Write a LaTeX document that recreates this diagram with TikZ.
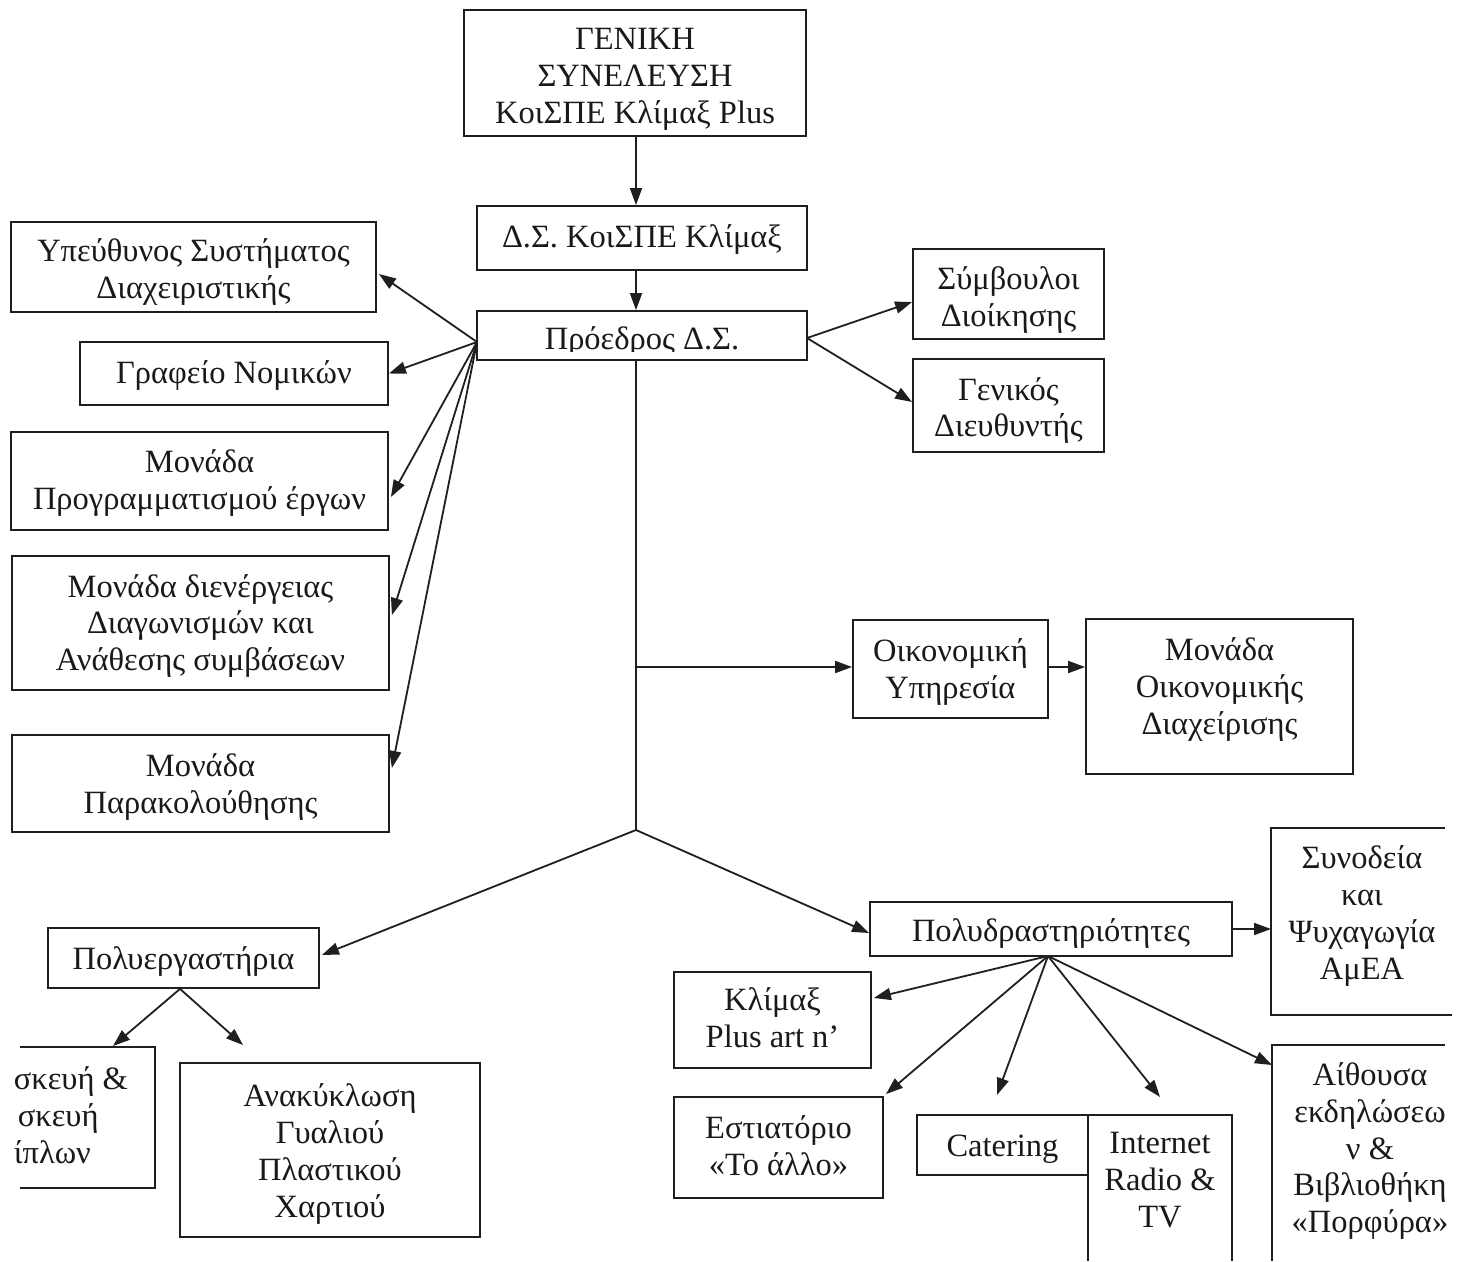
\documentclass[tikz,border=0pt]{standalone}
\usepackage{fontspec}
\setmainfont{Liberation Serif}
\usetikzlibrary{arrows.meta}
\begin{document}
\begin{tikzpicture}[x=1pt,y=-1pt,
  line width=1.8pt, draw=black!88,
  box/.style={draw=black!88, line width=1.8pt, inner sep=0pt},
  txt/.style={inner sep=0pt, align=center, text=black!90, font=\fontsize{32.5}{36.8}\selectfont},
  arr/.style={draw=black!88, line width=1.8pt, -{Triangle[length=17pt,width=12pt]}}]
\useasboundingbox (0,0) rectangle (1467,1261);
\fill[white] (0,0) rectangle (1467,1261);
% top column
\node[box, minimum width=342pt, minimum height=126pt,
  label={[txt,yshift=-6.5pt]center:{ΓΕΝΙΚΗ\\ΣΥΝΕΛΕΥΣΗ\\ΚοιΣΠΕ Κλίμαξ Plus}}] (gen) at (635,73) {};
\node[box, minimum width=330pt, minimum height=64pt,
  label={[txt,yshift=-2pt]center:{Δ.Σ. ΚοιΣΠΕ Κλίμαξ}}] (ds) at (642,238) {};
\node[box, minimum width=330pt, minimum height=49pt] (pres) at (642,335.5) {};
\begin{scope}
\clip (478,312) rectangle (806,351);
\node[txt, anchor=base] (prestxt) at (642,349) {Πρόεδρος Δ.Σ.};
\end{scope}
% left column
\node[box, minimum width=365pt, minimum height=90pt,
  label={[txt,yshift=-5pt]center:{Υπεύθυνος Συστήματος\\Διαχειριστικής}}] (yp) at (193.5,267) {};
\node[box, minimum width=308pt, minimum height=63pt,
  label={[txt,yshift=-2pt]center:{Γραφείο Νομικών}}] (graf) at (234,373.5) {};
\node[box, minimum width=377pt, minimum height=98pt,
  label={[txt,yshift=-2pt]center:{Μονάδα\\Προγραμματισμού έργων}}] (prog) at (199.5,481) {};
\node[box, minimum width=377pt, minimum height=134pt,
  label={[txt,yshift=-3pt]center:{Μονάδα διενέργειας\\Διαγωνισμών και\\Ανάθεσης συμβάσεων}}] (dien) at (200.5,623) {};
\node[box, minimum width=377pt, minimum height=97pt,
  label={[txt,yshift=-3.5pt]center:{Μονάδα\\Παρακολούθησης}}] (parak) at (200.5,783.5) {};
% right of president
\node[box, minimum width=191pt, minimum height=90pt,
  label={[txt,yshift=-6pt]center:{Σύμβουλοι\\Διοίκησης}}] (symb) at (1008.5,294) {};
\node[box, minimum width=191pt, minimum height=93pt,
  label={[txt,yshift=-5pt]center:{Γενικός\\Διευθυντής}}] (gend) at (1008.5,405.5) {};
% finance
\node[box, minimum width=195pt, minimum height=98pt,
  label={[txt,yshift=-3pt]center:{Οικονομική\\Υπηρεσία}}] (oik) at (950.5,669) {};
\node[box, minimum width=267pt, minimum height=155pt,
  label={[txt,yshift=7pt]center:{Μονάδα\\Οικονομικής\\Διαχείρισης}}] (modo) at (1219.5,696.5) {};
% workshops
\node[box, minimum width=271pt, minimum height=60pt,
  label={[txt,yshift=-3pt]center:{Πολυεργαστήρια}}] (polyerg) at (183.5,958) {};
\draw (20,1047) -- (155,1047) -- (155,1188) -- (20,1188);
\node[txt, align=left, anchor=west] (skeu) at (13,1115) {σκευή \&\\\hspace{4pt}σκευή\\ίπλων};
\coordinate (skeutop) at (113,1046);
\node[box, minimum width=300pt, minimum height=174pt,
  label={[txt,yshift=-4pt]center:{Ανακύκλωση\\Γυαλιού\\Πλαστικού\\Χαρτιού}}] (anak) at (330,1150) {};
\coordinate (anaktop) at (243,1045);
% activities
\node[box, minimum width=362pt, minimum height=54pt,
  label={[txt,yshift=-4pt]center:{Πολυδραστηριότητες}}] (polyd) at (1051,929) {};
\draw (1445,828) -- (1271,828) -- (1271,1015) -- (1452,1015);
\node[txt] (syn) at (1362,916) {Συνοδεία\\και\\Ψυχαγωγία\\ΑμΕΑ};
\coordinate (synw) at (1271,929);
\node[box, minimum width=197pt, minimum height=96pt,
  label={[txt,yshift=2pt]center:{Κλίμαξ\\Plus art n’}}] (klim) at (772.5,1020) {};
\node[box, minimum width=209pt, minimum height=101pt,
  label={[txt,yshift=2pt]center:{Εστιατόριο\\«Το άλλο»}}] (estia) at (778.5,1147.5) {};
\node[box, minimum width=171pt, minimum height=60pt,
  label={[txt,yshift=-4pt]center:{Catering}}] (cater) at (1002.5,1145) {};
\coordinate (catertop) at (997,1095);
\draw (1088,1261) -- (1088,1115) -- (1232,1115) -- (1232,1261);
\node[txt] (inet) at (1160,1180) {Internet\\Radio \&\\TV};
\coordinate (inettop) at (1160,1097);
\draw (1445,1045) -- (1272,1045) -- (1272,1261);
\node[txt] (aith) at (1370,1151) {Αίθουσα\\εκδηλώσεω\\ν \&\\Βιβλιοθήκη\\«Πορφύρα»};
\coordinate (aithw) at (1272,1065);
% spine coordinates
\coordinate (br) at (636,667);
\coordinate (fork) at (636,830);
% connectors
\draw[arr] ([xshift=1pt]gen.south) -- ([xshift=-6pt]ds.north);
\draw[arr] ([xshift=-6pt]ds.south) -- ([xshift=-6pt]pres.north);
\coordinate (pl) at (477,342);
\draw[arr] (pl) -- ([xshift=2pt,yshift=-7pt]yp.east);
\draw[arr] (pl) -- (graf.east);
\draw[arr] (pl) -- ([xshift=2pt,yshift=-16pt]prog.east);
\draw[arr] (pl) -- ([xshift=2pt,yshift=8pt]dien.east);
\draw[arr] (pl) -- ([xshift=2pt,yshift=15.5pt]parak.east);
\coordinate (pr) at (807,338);
\draw[arr] (pr) -- ([yshift=-8pt]symb.west);
\draw[arr] (pr) -- ([yshift=3.5pt]gend.west);
\draw ([xshift=-6pt]pres.south) -- (fork);
\draw[arr] (br) -- (oik.west |- br);
\draw[arr] (oik.east |- br) -- (modo.west |- br);
\draw[arr] (fork) -- ([xshift=2pt,yshift=3pt]polyerg.east);
\draw[arr] (fork) -- ([yshift=-4pt]polyd.west);
\draw[arr] ([xshift=-3.5pt]polyerg.south) -- (skeutop);
\draw[arr] ([xshift=-3.5pt]polyerg.south) -- (anaktop);
\draw[arr] (polyd.east) -- (synw);
\coordinate (pd) at (1048,956);
\draw[arr] (pd) -- ([xshift=2pt,yshift=22pt]klim.east);
\draw[arr] (pd) -- ([xshift=2pt,yshift=2pt]estia.north east);
\draw[arr] (pd) -- (catertop);
\draw[arr] (pd) -- (inettop);
\draw[arr] (pd) -- (aithw);
\end{tikzpicture}
\end{document}
